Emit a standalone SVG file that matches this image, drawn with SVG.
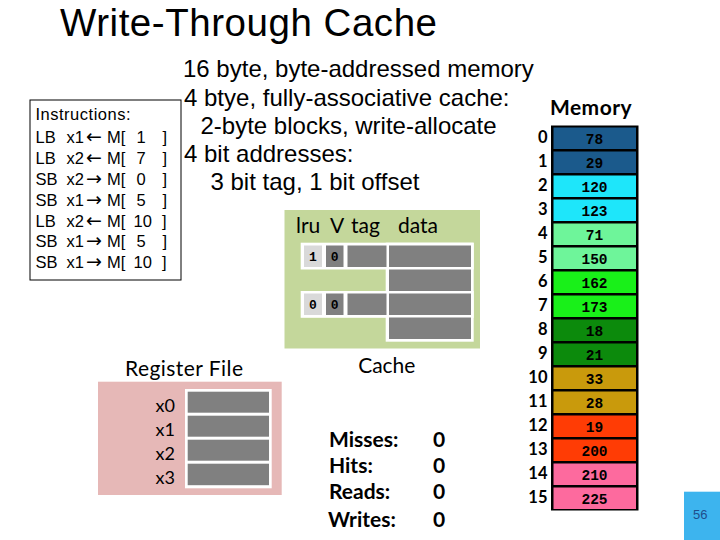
<svg xmlns="http://www.w3.org/2000/svg" width="720" height="540" viewBox="0 0 720 540">
<style>
.ar{font-family:"Liberation Sans",Arial,sans-serif;fill:#000}
.cal{font-family:Lato,"Noto Sans",sans-serif;fill:#000}
.mono{font-family:"Liberation Mono","DejaVu Sans Mono",monospace;font-weight:bold;fill:#000}
.ins{font-size:16.5px}
.arw{font-family:"DejaVu Sans",sans-serif;font-size:19px}
.gray{fill:#808080}
.lgray{fill:#d9d9d9}
.wht{fill:#fff}
.idx{font-family:Lato,"Noto Sans",sans-serif;font-weight:bold;font-size:16.5px;text-anchor:end}
.mv{font-size:14.5px;text-anchor:middle}
.st{font-size:21px;font-weight:bold}
</style>
<rect width="720" height="540" fill="#fff"/>
<g id="title">
<text class="ar" x="60" y="35.5" font-size="38.5" textLength="377" lengthAdjust="spacing">Write-Through Cache</text>
</g>
<g id="instructions">
<rect x="30" y="100" width="151" height="180" fill="none" stroke="#000" stroke-width="1"/>
<text class="ar ins" x="35.5" y="120" textLength="95" lengthAdjust="spacing">Instructions:</text>
<text class="ar ins" y="143"><tspan x="35.5">LB</tspan><tspan x="66.5">x1</tspan><tspan class="arw" x="86">←</tspan><tspan x="107">M[</tspan><tspan x="136.5">1</tspan><tspan x="162.5">]</tspan></text>
<text class="ar ins" y="164"><tspan x="35.5">LB</tspan><tspan x="66.5">x2</tspan><tspan class="arw" x="86">←</tspan><tspan x="107">M[</tspan><tspan x="136.5">7</tspan><tspan x="162.5">]</tspan></text>
<text class="ar ins" y="185"><tspan x="35.5">SB</tspan><tspan x="66.5">x2</tspan><tspan class="arw" x="86">→</tspan><tspan x="107">M[</tspan><tspan x="136.5">0</tspan><tspan x="162.5">]</tspan></text>
<text class="ar ins" y="205.5"><tspan x="35.5">SB</tspan><tspan x="66.5">x1</tspan><tspan class="arw" x="86">→</tspan><tspan x="107">M[</tspan><tspan x="136.5">5</tspan><tspan x="162.5">]</tspan></text>
<text class="ar ins" y="226.5"><tspan x="35.5">LB</tspan><tspan x="66.5">x2</tspan><tspan class="arw" x="86">←</tspan><tspan x="107">M[</tspan><tspan x="133.5">10</tspan><tspan x="162">]</tspan></text>
<text class="ar ins" y="247"><tspan x="35.5">SB</tspan><tspan x="66.5">x1</tspan><tspan class="arw" x="86">→</tspan><tspan x="107">M[</tspan><tspan x="136.5">5</tspan><tspan x="162.5">]</tspan></text>
<text class="ar ins" y="268"><tspan x="35.5">SB</tspan><tspan x="66.5">x1</tspan><tspan class="arw" x="86">→</tspan><tspan x="107">M[</tspan><tspan x="133.5">10</tspan><tspan x="162">]</tspan></text>
</g>
<g id="parameters">
<text class="ar" font-size="24" x="183" y="77">16 byte, byte-addressed memory</text>
<text class="ar" font-size="24" x="184" y="105.5">4 btye, fully-associative cache:</text>
<text class="ar" font-size="24" x="200.5" y="134">2-byte blocks, write-allocate</text>
<text class="ar" font-size="24" x="184" y="162">4 bit addresses:</text>
<text class="ar" font-size="24" x="210.5" y="190">3 bit tag, 1 bit offset</text>
</g>
<g id="cache">
<rect x="284.5" y="210" width="195.5" height="138.5" fill="#c4d79b"/>
<text class="cal" font-size="21" y="233"><tspan x="296">lru</tspan><tspan x="330">V</tspan><tspan x="351">tag</tspan><tspan x="398">data</tspan></text>
<rect class="wht" x="300.7" y="242.7" width="173" height="26.8"/>
<rect class="wht" x="300.7" y="291" width="173" height="26.8"/>
<rect class="wht" x="385.7" y="242.7" width="88" height="99"/>
<rect class="lgray" x="304" y="245.5" width="18" height="21.5"/>
<rect class="gray" x="326" y="245.5" width="17.5" height="21.5"/>
<rect class="gray" x="347.5" y="245.5" width="39" height="21.5"/>
<rect class="lgray" x="304" y="293.5" width="18" height="21.5"/>
<rect class="gray" x="326" y="293.5" width="17.5" height="21.5"/>
<rect class="gray" x="347.5" y="293.5" width="39" height="21.5"/>
<rect class="gray" x="389" y="245.5" width="82" height="21.5"/>
<rect class="gray" x="389" y="269.5" width="82" height="21.5"/>
<rect class="gray" x="389" y="293.5" width="82" height="21.5"/>
<rect class="gray" x="389" y="317.5" width="82" height="21.5"/>
<text class="mono" font-size="13" text-anchor="middle" x="313" y="260.5">1</text>
<text class="mono" font-size="13" text-anchor="middle" x="334.7" y="260.5">0</text>
<text class="mono" font-size="13" text-anchor="middle" x="313" y="308.5">0</text>
<text class="mono" font-size="13" text-anchor="middle" x="334.7" y="308.5">0</text>
<text class="cal" font-size="21" x="358.3" y="373.3" textLength="57" lengthAdjust="spacing">Cache</text>
</g>
<g id="register-file">
<text class="cal" font-size="21" x="125" y="375.5" textLength="118" lengthAdjust="spacing">Register File</text>
<rect x="98" y="381.7" width="183.7" height="113.3" fill="#e6b8b7"/>
<rect class="wht" x="185" y="389" width="86.7" height="99.3"/>
<rect class="gray" x="187.7" y="391.7" width="81.3" height="21"/>
<rect class="gray" x="187.7" y="415.7" width="81.3" height="21"/>
<rect class="gray" x="187.7" y="439.7" width="81.3" height="21"/>
<rect class="gray" x="187.7" y="463.7" width="81.3" height="21.5"/>
<text class="cal" font-size="18" text-anchor="end" x="175" y="412">x0</text>
<text class="cal" font-size="18" text-anchor="end" x="175" y="436">x1</text>
<text class="cal" font-size="18" text-anchor="end" x="175" y="460">x2</text>
<text class="cal" font-size="18" text-anchor="end" x="175" y="484">x3</text>
</g>
<g id="stats">
<text class="cal st" x="329" y="446.7">Misses:</text>
<text class="cal st" x="329" y="473.3">Hits:</text>
<text class="cal st" x="329" y="499.3">Reads:</text>
<text class="cal st" x="328" y="526.7">Writes:</text>
<text class="cal st" x="433" y="446.7">0</text>
<text class="cal st" x="433" y="473.3">0</text>
<text class="cal st" x="433" y="499.3">0</text>
<text class="cal st" x="433" y="526.7">0</text>
</g>
<g id="memory">
<text class="cal" font-size="21" font-weight="bold" x="550" y="115" textLength="81.5" lengthAdjust="spacing">Memory</text>
<rect x="551" y="125.5" width="87.5" height="385" fill="#000"/>
<rect x="553.5" y="127.5" width="82.5" height="21.5" fill="#1b5a8c"/>
<rect x="553.5" y="151.5" width="82.5" height="21.5" fill="#1b5a8c"/>
<rect x="553.5" y="175.5" width="82.5" height="21.5" fill="#1ee6fa"/>
<rect x="553.5" y="199.5" width="82.5" height="21.5" fill="#1ee6fa"/>
<rect x="553.5" y="223.5" width="82.5" height="21.5" fill="#6ef59a"/>
<rect x="553.5" y="247.5" width="82.5" height="21.5" fill="#6ef59a"/>
<rect x="553.5" y="271.5" width="82.5" height="21.5" fill="#19f019"/>
<rect x="553.5" y="295.5" width="82.5" height="21.5" fill="#19f019"/>
<rect x="553.5" y="319.5" width="82.5" height="21.5" fill="#0c8a0c"/>
<rect x="553.5" y="343.5" width="82.5" height="21.5" fill="#0c8a0c"/>
<rect x="553.5" y="367.5" width="82.5" height="21.5" fill="#c99a0c"/>
<rect x="553.5" y="391.5" width="82.5" height="21.5" fill="#c99a0c"/>
<rect x="553.5" y="415.5" width="82.5" height="21.5" fill="#ff3c05"/>
<rect x="553.5" y="439.5" width="82.5" height="21.5" fill="#ff3c05"/>
<rect x="553.5" y="463.5" width="82.5" height="21.5" fill="#fd6a9e"/>
<rect x="553.5" y="487.5" width="82.5" height="21.5" fill="#fd6a9e"/>
<text class="mono mv" x="594.5" y="144">78</text>
<text class="mono mv" x="594.5" y="168">29</text>
<text class="mono mv" x="594.5" y="192">120</text>
<text class="mono mv" x="594.5" y="216">123</text>
<text class="mono mv" x="594.5" y="240">71</text>
<text class="mono mv" x="594.5" y="264">150</text>
<text class="mono mv" x="594.5" y="288">162</text>
<text class="mono mv" x="594.5" y="312">173</text>
<text class="mono mv" x="594.5" y="336">18</text>
<text class="mono mv" x="594.5" y="360">21</text>
<text class="mono mv" x="594.5" y="384">33</text>
<text class="mono mv" x="594.5" y="408">28</text>
<text class="mono mv" x="594.5" y="432">19</text>
<text class="mono mv" x="594.5" y="456">200</text>
<text class="mono mv" x="594.5" y="480">210</text>
<text class="mono mv" x="594.5" y="504">225</text>
<text class="idx" x="547.5" y="143">0</text>
<text class="idx" x="547.5" y="167">1</text>
<text class="idx" x="547.5" y="191">2</text>
<text class="idx" x="547.5" y="215">3</text>
<text class="idx" x="547.5" y="239">4</text>
<text class="idx" x="547.5" y="263">5</text>
<text class="idx" x="547.5" y="287">6</text>
<text class="idx" x="547.5" y="311">7</text>
<text class="idx" x="547.5" y="335">8</text>
<text class="idx" x="547.5" y="359">9</text>
<text class="idx" x="547.5" y="383">10</text>
<text class="idx" x="547.5" y="407">11</text>
<text class="idx" x="547.5" y="431">12</text>
<text class="idx" x="547.5" y="455">13</text>
<text class="idx" x="547.5" y="479">14</text>
<text class="idx" x="547.5" y="503">15</text>
</g>
<g id="slide-number">
<rect x="684" y="491.7" width="36" height="48.3" fill="#3db4ee"/>
<text class="ar" font-size="13" x="693" y="519" style="fill:#1f4e8c">56</text>
</g>
</svg>
